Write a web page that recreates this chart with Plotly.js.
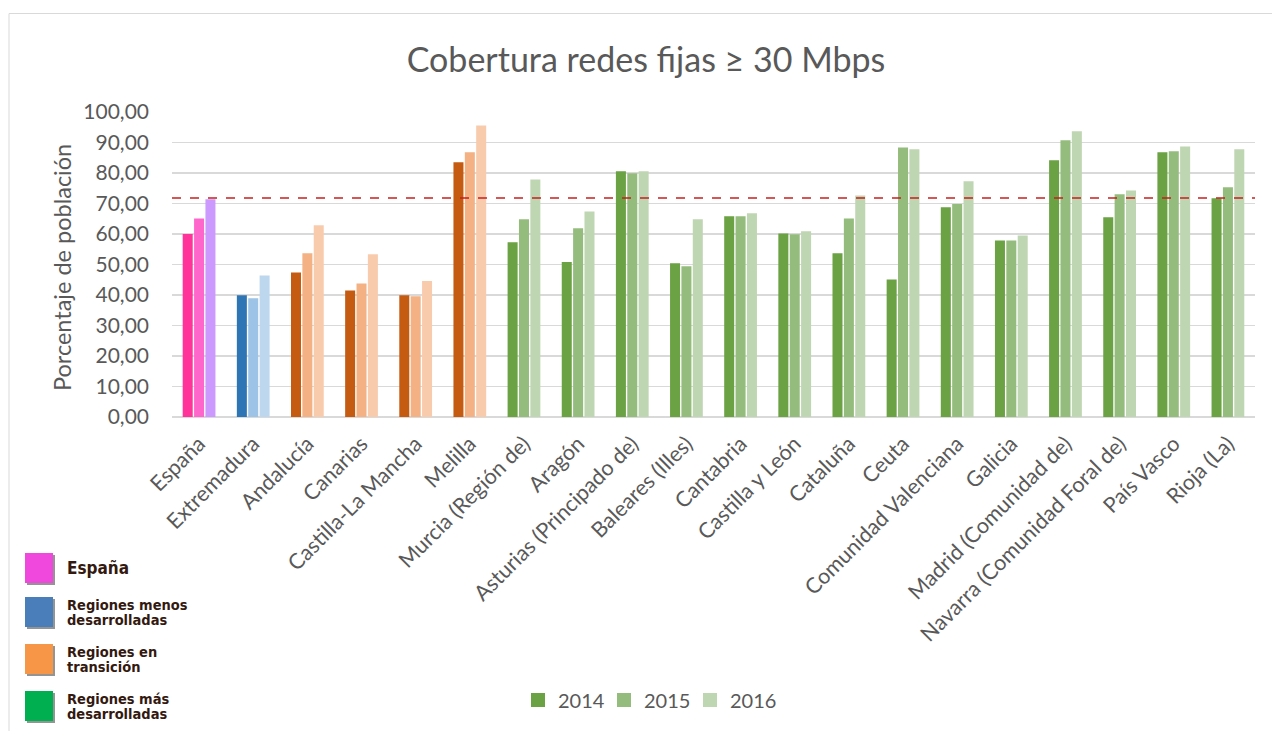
<!DOCTYPE html>
<html>
<head>
<meta charset="utf-8">
<script src="https://cdn.plot.ly/plotly-3.0.1.min.js"></script>
<style>
  html, body { margin: 0; padding: 0; background: #fff; }
  #chart { width: 1272px; height: 731px; }
</style>
</head>
<body>
<div id="chart"></div>
<script>
const categories = ['España', 'Extremadura', 'Andalucía', 'Canarias', 'Castilla-La Mancha', 'Melilla',
    'Murcia (Región de)', 'Aragón', 'Asturias (Principado de)', 'Baleares (Illes)', 'Cantabria',
    'Castilla y León', 'Cataluña', 'Ceuta', 'Comunidad Valenciana', 'Galicia',
    'Madrid (Comunidad de)', 'Navarra (Comunidad Foral de)', 'País Vasco', 'Rioja (La)'];

const cobertura2014 = [60.0, 39.9, 47.4, 41.5, 39.9, 83.5, 57.3, 50.8, 80.6, 50.4, 65.8, 60.2, 53.7, 45.1, 68.8, 57.9, 84.2, 65.5, 86.8, 71.7];
const cobertura2015 = [65.1, 38.9, 53.7, 43.8, 39.6, 86.8, 64.8, 61.9, 79.9, 49.4, 65.8, 59.9, 65.1, 88.4, 69.8, 57.9, 90.7, 73.0, 87.1, 75.3];
const cobertura2016 = [71.4, 46.4, 62.9, 53.4, 44.6, 95.6, 77.9, 67.4, 80.6, 64.8, 66.8, 60.9, 72.6, 87.8, 77.3, 59.5, 93.7, 74.3, 88.7, 87.8];

// grupo de cada categoria: 0 España, 1 menos desarrolladas, 2 transición, 3 más desarrolladas
const regionGroup = [0, 1, 2, 2, 2, 2, 3, 3, 3, 3, 3, 3, 3, 3, 3, 3, 3, 3, 3, 3];

const referencia = 71.8;

const years = ['2014', '2015', '2016'];

const groupNames = ['España', ['Regiones menos', 'desarrolladas'], ['Regiones en', 'transición'], ['Regiones más', 'desarrolladas']];
const groupSwatches = ['#F048DC', '#4A7EBB', '#F79646', '#00B050'];

// tonos por grupo y año
const palette = [
    ['#FF3399', '#FF66CC', '#CC99FF'],
    ['#2E75B6', '#9DC3E6', '#BDD7EE'],
    ['#C55A11', '#F4B183', '#F8CBAD'],
    ['#6AA244', '#94BC7C', '#BFD6B2'],
];

const W = 1272, H = 731;
const margin = {l: 172, r: 17, t: 112, b: 314};
const plotW = W - margin.l - margin.r;
const plotH = H - margin.t - margin.b;
function px(x) { return (x - margin.l) / plotW; }
function py(y) { return (H - margin.b - y) / plotH; }

const series = [cobertura2014, cobertura2015, cobertura2016];
const data = [];
series.forEach((values, i) => {
    data.push({
        type: 'bar',
        name: years[i],
        x: categories,
        y: values,
        marker: {color: regionGroup.map(g => palette[g][i])},
        showlegend: false,
        hoverinfo: 'x+y',
    });
});
// entradas de leyenda (verdes)
years.forEach((year, i) => {
    data.push({
        type: 'scatter',
        mode: 'markers',
        name: year,
        x: [null],
        y: [null],
        marker: {symbol: 'square', size: 14, color: palette[3][i]},
        showlegend: true,
        hoverinfo: 'skip',
    });
});

const shapes = [{
    type: 'line',
    xref: 'paper',
    yref: 'y',
    x0: 0,
    x1: 1,
    y0: referencia,
    y1: referencia,
    line: {color: 'rgba(200,30,30,0.75)', width: 2, dash: 'dash'},
}, {
    // marco del grafico
    type: 'rect',
    xref: 'paper',
    yref: 'paper',
    x0: px(9),
    x1: px(1280),
    y0: py(740),
    y1: py(13.5),
    line: {color: '#d9d9d9', width: 1},
    layer: 'below',
}];

const annotations = [];
const boxTops = [553, 597, 644, 691];
boxTops.forEach((top, i) => {
    const size = 30;
    // sombra
    shapes.push({
        type: 'rect', xref: 'paper', yref: 'paper',
        x0: px(27), x1: px(27 + 28), y0: py(top + 2 + size), y1: py(top + 2),
        fillcolor: 'rgba(60,60,60,0.55)', line: {width: 0},
    });
    shapes.push({
        type: 'rect', xref: 'paper', yref: 'paper',
        x0: px(25), x1: px(25 + 28), y0: py(top + size), y1: py(top),
        fillcolor: groupSwatches[i], line: {width: 0},
    });
    const label = groupNames[i];
    if (typeof label === 'string') {
        annotations.push({
            xref: 'paper', yref: 'paper', x: px(65), y: py(top + 15),
            xanchor: 'left', yanchor: 'middle', showarrow: false,
            text: '<b>' + label + '</b>',
            font: {family: 'DejaVu Sans Condensed', size: 17, color: '#33190f'},
        });
    } else {
        label.forEach((line, j) => {
            annotations.push({
                xref: 'paper', yref: 'paper', x: px(65), y: py(top + 8 + j * 15),
                xanchor: 'left', yanchor: 'middle', showarrow: false,
                text: '<b>' + line + '</b>',
                font: {family: 'DejaVu Sans Condensed', size: 14.5, color: '#33190f'},
            });
        });
    }
});

annotations.push({
    xref: 'paper', yref: 'paper', x: px(62), y: py(268),
    xanchor: 'center', yanchor: 'middle', showarrow: false, textangle: -90,
    text: 'Porcentaje de población',
    font: {family: 'Lato, sans-serif', size: 23.5, color: '#595959'},
});

const layout = {
    width: W,
    height: H,
    margin: margin,
    paper_bgcolor: '#ffffff',
    plot_bgcolor: '#ffffff',
    separators: ',.',
    font: {family: 'Lato, sans-serif', color: '#595959'},
    title: {
        text: 'Cobertura redes fijas ≥ 30 Mbps',
        x: 646 / W,
        xref: 'container',
        xanchor: 'center',
        y: 1 - 60 / H,
        yref: 'container',
        yanchor: 'middle',
        font: {family: 'Lato, sans-serif', size: 34, color: '#595959'},
    },
    barmode: 'group',
    bargap: 0.37,
    bargroupgap: 0.12,
    xaxis: {
        type: 'category',
        tickangle: -45,
        tickfont: {size: 21.5, color: '#595959'},
        showgrid: false,
        showline: false,
        ticks: '',
        ticklabelstandoff: 9,
        automargin: false,
    },
    yaxis: {
        range: [0, 100],
        dtick: 10,
        tickformat: '.2f',
        tickfont: {size: 21, color: '#595959'},
        gridcolor: '#d9d9d9',
        gridwidth: 1.3,
        zeroline: true,
        zerolinecolor: '#d9d9d9',
        zerolinewidth: 1.3,
        ticklabelstandoff: 22,
        automargin: false,
    },
    legend: {
        orientation: 'h',
        x: px(518),
        xanchor: 'left',
        y: py(700),
        yanchor: 'middle',
        font: {size: 20, color: '#595959'},
        entrywidth: 41,
        traceorder: 'normal',
        bgcolor: 'rgba(0,0,0,0)',
    },
    shapes: shapes,
    annotations: annotations,
};

Plotly.newPlot('chart', data, layout, {displayModeBar: false, staticPlot: true});
</script>
</body>
</html>
